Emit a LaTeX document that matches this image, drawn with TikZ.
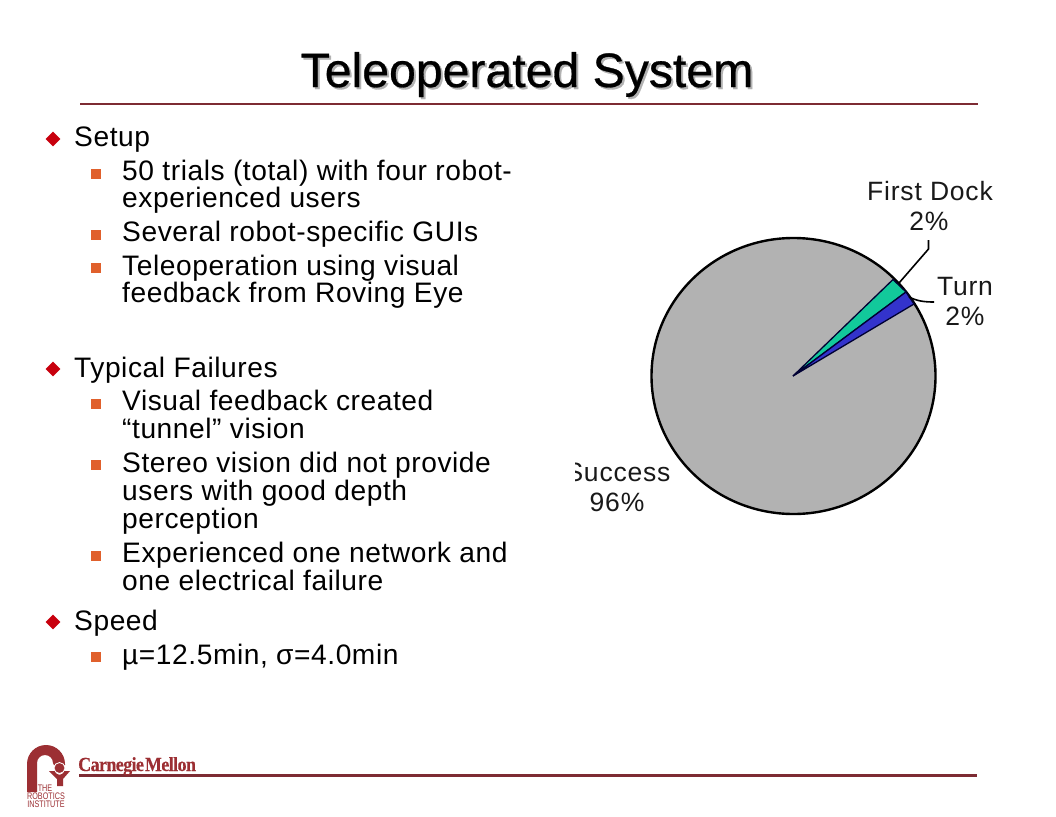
\documentclass[tikz,border=0pt]{standalone}
\usepackage{fontspec}
\setmainfont{Liberation Sans}
\newfontfamily\logoserif[FakeStretch=0.9,LetterSpace=-3,FakeBold=0.3]{Liberation Serif Bold}
\newfontfamily\logosans[FakeStretch=0.76]{Liberation Sans}
\newfontfamily\titlefont[FakeBold=0.6]{Liberation Sans}
\newfontfamily\bodyfont[LetterSpace=2]{Liberation Sans}
\newfontfamily\labelfont[LetterSpace=3]{Liberation Sans}
\usetikzlibrary{shapes.geometric}
\definecolor{rulered}{HTML}{7D2B33}
\definecolor{logored}{HTML}{9C2F33}
\definecolor{bulletred}{HTML}{C8000E}
\definecolor{bulletorange}{HTML}{E0602C}
\definecolor{piegray}{HTML}{B2B2B2}
\definecolor{piegreen}{HTML}{12C99B}
\definecolor{pieblue}{HTML}{3333CC}
\tikzset{
  x=1pt,y=-1pt,
  titletext/.style={anchor=base,inner sep=0pt,font=\titlefont\fontsize{48.2}{48}\selectfont},
  bodytext/.style={anchor=base west,inner sep=0pt,font=\bodyfont\fontsize{28.15}{28}\selectfont},
  labeltext/.style={anchor=base,inner sep=0pt,font=\labelfont\fontsize{26.5}{26}\selectfont,text=black!90},
  logotext/.style={anchor=base,inner sep=0pt,text=logored,font=\logosans\fontsize{9.5}{9.5}\selectfont},
  diam/.style={diamond,fill=bulletred,inner sep=0pt,minimum width=15pt,minimum height=15pt},
  sq/.style={rectangle,fill=bulletorange,inner sep=0pt,minimum size=10pt},
  rulel/.style={draw=rulered,line width=2.2pt},
  leader/.style={draw=black,line width=1.6pt},
  wedge/.style={draw=black!80!blue,line width=1.3pt},
}
\begin{document}
\begin{tikzpicture}
\useasboundingbox[fill=white] (0,0) rectangle (1056,816);
% title
\node[titletext,text=black!30] (titleshadow) at (529,89) {Teleoperated System};
\node[titletext] (title) at (527,87) {Teleoperated System};
\coordinate (r1a) at (80,104); \coordinate (r1b) at (978,104);
\draw[rulel] (r1a) -- (r1b);
% bullets level 1
\node[diam] (d1) at (53,139) {};
\node[diam] (d2) at (53,369) {};
\node[diam] (d3) at (53,622) {};
% bullets level 2
\foreach \n/\y in {a/174,b/235,c/268,e/404,f/465,g/556,h/657}{
  \node[sq] (s\n) at (96,\y) {};
}
% text
\node[bodytext] (t1) at (74,146) {Setup};
\node[bodytext] (t2) at (122,180) {50 trials (total) with four robot-};
\node[bodytext] (t3) at (122,207) {experienced users};
\node[bodytext] (t4) at (122,241) {Several robot-specific GUIs};
\node[bodytext] (t5) at (122,275) {Teleoperation using visual};
\node[bodytext] (t6) at (122,302) {feedback from Roving Eye};
\node[bodytext] (t7) at (74,377) {Typical Failures};
\node[bodytext] (t8) at (122,410) {Visual feedback created};
\node[bodytext] (t9) at (122,438) {“tunnel” vision};
\node[bodytext] (t10) at (122,472) {Stereo vision did not provide};
\node[bodytext] (t11) at (122,500) {users with good depth};
\node[bodytext] (t12) at (122,528) {perception};
\node[bodytext] (t13) at (122,562) {Experienced one network and};
\node[bodytext] (t14) at (122,590) {one electrical failure};
\node[bodytext] (t15) at (74,630) {Speed};
\node[bodytext] (t16) at (122,664) {µ=12.5min, σ=4.0min};
% pie
\coordinate (pc) at (793,376);
\coordinate (pa) at (893,279.5);
\coordinate (pb) at (906,292);
\coordinate (pd) at (914,304);
\fill[piegray,draw=black,line width=2.4pt] (793.5,376) ellipse [x radius=142,y radius=138];
\filldraw[fill=piegreen,wedge] (pc) -- (pa) -- (pb) -- cycle;
\filldraw[fill=pieblue,wedge] (pc) -- (pb) -- (pd) -- cycle;
% leaders
\coordinate (l1a) at (899,283); \coordinate (l1b) at (928.5,249); \coordinate (l1c) at (928.5,240);
\coordinate (l2a) at (909,297); \coordinate (l2c) at (934,302);
\draw[leader] (l1a) -- (l1b) -- (l1c);
\draw[leader] (l2a) .. controls (917,301) and (924,302) .. (l2c);
% labels
\node[labeltext] (lfd) at (930,200) {First Dock};
\node[labeltext] (lfdp) at (929,230) {2\%};
\node[labeltext] (ltu) at (965,295) {Turn};
\node[labeltext] (ltup) at (965,325) {2\%};
\begin{scope}
\clip (575,440) rectangle (700,530);
\node[labeltext] (lsu) at (618,481) {Success};
\node[labeltext] (lsup) at (617,511) {96\%};
\end{scope}
% bottom rule
\coordinate (r2a) at (79,775.5); \coordinate (r2b) at (977,775.5);
\draw[rulel] (r2a) -- (r2b);
\node[anchor=base west,inner sep=0pt,text=logored,font=\logoserif\fontsize{20}{20}\selectfont] (cmu) at (78,771) {Carnegie\hspace{1pt}Mellon};
% logo
\fill[logored] (27,792) -- (27,764) arc[start angle=180,end angle=360,x radius=19,y radius=19] -- (65,765) -- (54,765) -- (53,763) arc[start angle=0,end angle=-180,x radius=8,y radius=8] -- (37,792) -- cycle;
\fill[logored] (49,771) -- (55,771) .. controls (56,776) and (63,776) .. (64,771) -- (70,771) -- (63,779) -- (63,786) -- (57,786) -- (57,779) -- cycle;
\draw[white,line width=0.8pt,fill=logored] (59.5,768) circle[radius=5.5];
\node[logotext] (lg1) at (45,791) {THE};
\node[logotext] (lg2) at (46,799) {ROBOTICS};
\node[logotext] (lg3) at (46,807) {INSTITUTE};
\end{tikzpicture}
\end{document}
